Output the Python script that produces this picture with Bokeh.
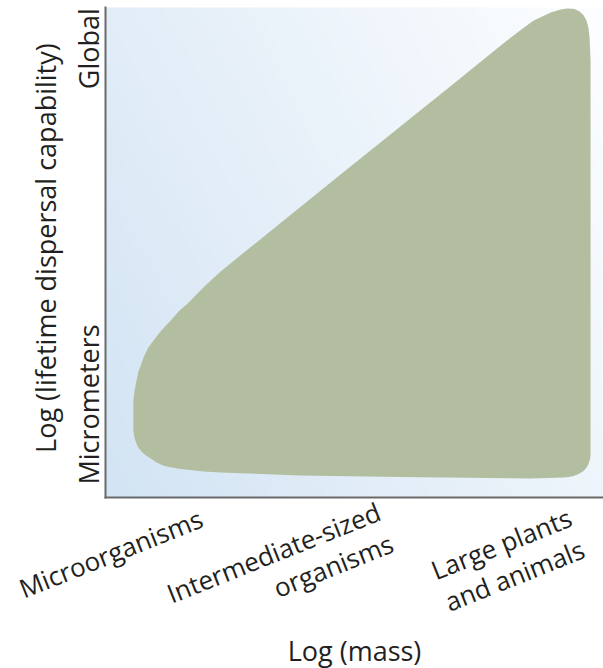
import numpy as np
from bokeh.plotting import figure
from bokeh.models import Range1d
from bokeh.core.properties import value
from bokeh.embed import file_html
from bokeh.resources import INLINE

# ---- data (conceptual chart, both axes 0..10) ----
blob_x = [0.56, 0.58, 0.62, 0.66, 0.72, 0.78, 0.86, 0.96, 1.12, 1.31, 1.47, 1.65, 1.99, 2.33,
          4.72, 7.07, 7.93, 8.27, 8.59, 8.94, 9.14, 9.28, 9.42, 9.52, 9.60, 9.66, 9.70, 9.72,
          9.74, 9.74, 9.73, 9.70, 9.66, 9.60, 9.50, 9.40, 9.30, 9.20, 8.53, 5.92, 3.92, 2.31,
          1.97, 1.51, 1.33, 1.17, 1.02, 0.90, 0.82, 0.74, 0.67, 0.62, 0.58, 0.56]
blob_y = [1.98, 2.16, 2.37, 2.57, 2.73, 2.90, 3.06, 3.20, 3.41, 3.61, 3.80, 3.96, 4.31, 4.63,
          6.59, 8.51, 9.22, 9.49, 9.73, 9.90, 9.96, 9.98, 9.97, 9.92, 9.84, 9.73, 9.57, 9.39,
          8.92, 0.86, 0.78, 0.69, 0.61, 0.54, 0.48, 0.44, 0.42, 0.41, 0.39, 0.42, 0.45, 0.51,
          0.53, 0.58, 0.61, 0.65, 0.72, 0.80, 0.85, 0.92, 1.00, 1.10, 1.22, 1.37]

x_lo, x_hi = 0, 10
y_lo, y_hi = 0, 10

y_ticks = [1.90, 9.16]
y_tick_labels = ["Micrometers", "Global"]

categories = ["Microorganisms", "Intermediate-sized\norganisms", "Large plants\nand animals"]
cat_x = [1.79, 5.36, 9.20]
cat_label_y = [-0.06, 0.08, -0.04]

x_title = "Log (mass)"
y_title = "Log (lifetime dispersal capability)"

FONT = "Open Sans"
FSIZE = "27px"
CAT_FSIZE = "26px"
TXT = "#231f20"
AXIS = "#6a6a6a"

# Whole canvas is the frame: the plot box spans px 105..603 (x) and 7..497 (y)
PX_X = 49.8   # pixels per x unit
PX_Y = 49.0   # pixels per y unit
p = figure(width=603, height=668,
           x_range=Range1d(-105 / PX_X, 10), y_range=Range1d(-171 / PX_Y, 497 / PX_Y),
           output_backend="svg", toolbar_location=None,
           x_axis_location=None, y_axis_location=None,
           min_border_left=0, min_border_right=0, min_border_top=0, min_border_bottom=0)
p.grid.visible = False
p.outline_line_color = None
p.background_fill_color = "white"
p.border_fill_color = "white"

# background gradient of the plot box (style only)
n = 128
u = np.linspace(0, 1, n)
U, V = np.meshgrid(u, u)
t = 0.65 * U + 0.35 * V
c0 = np.array([211, 228, 244])
c1 = np.array([253, 254, 255])
img = np.empty((n, n), dtype=np.uint32)
view = img.view(dtype=np.uint8).reshape((n, n, 4))
for k in range(3):
    view[..., k] = (c0[k] + t * (c1[k] - c0[k])).astype(np.uint8)
view[..., 3] = 255
p.image_rgba(image=[img], x=x_lo, y=y_lo, dw=x_hi - x_lo, dh=y_hi - y_lo)

# the region
p.patch(blob_x, blob_y, fill_color="#b3bea1", line_color=None)

# axis lines
p.segment(x0=[x_lo, x_lo], y0=[y_lo, y_lo], x1=[x_lo, x_hi], y1=[y_hi, y_lo],
          line_color=AXIS, line_width=2, line_cap="square")

# y tick labels (rotated) and y title
p.text(x=[-0.341] * len(y_ticks), y=y_ticks, text=y_tick_labels, angle=np.pi / 2,
       text_align="center", text_baseline="alphabetic",
       text_font=value(FONT), text_font_size=FSIZE, text_color=TXT)
p.text(x=[-1.205], y=[(y_lo + y_hi) / 2 + 0.09], text=[y_title], angle=np.pi / 2,
       text_align="center", text_baseline="alphabetic",
       text_font=value(FONT), text_font_size=FSIZE, text_color=TXT)

# x category labels (slanted) and x title
p.text(x=cat_x, y=cat_label_y, text=categories, angle=0.38,
       text_align="right", text_baseline="top",
       text_font=value(FONT), text_font_size=CAT_FSIZE, text_color=TXT, text_line_height=0.95)
p.text(x=[(x_lo + x_hi) / 2], y=[-3.12], text=[x_title],
       text_align="center", text_baseline="alphabetic",
       text_font=value(FONT), text_font_size=FSIZE, text_color=TXT)

open("out.html", "w").write(file_html(p, INLINE))
